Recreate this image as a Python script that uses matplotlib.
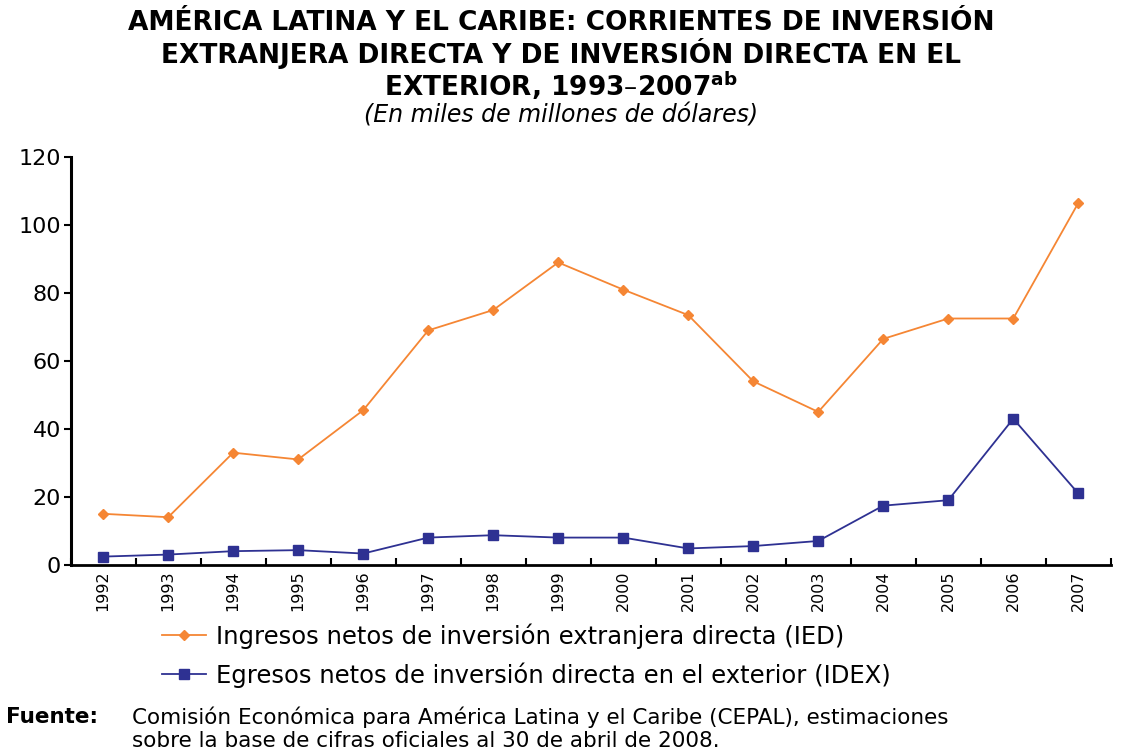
import matplotlib
matplotlib.use("Agg")
import matplotlib.pyplot as plt

# Data (miles de millones de dolares)
years = ["1992", "1993", "1994", "1995", "1996", "1997", "1998", "1999",
         "2000", "2001", "2002", "2003", "2004", "2005", "2006", "2007"]
ied = [15, 14, 33, 31, 45.5, 69, 75, 89, 81, 73.5, 54, 45, 66.5, 72.5, 72.5, 106.5]
idex = [2.4, 3, 4, 4.3, 3.3, 8, 8.7, 8, 8, 4.8, 5.5, 7, 17.4, 19, 43, 21]

orange = "#F58634"
blue = "#2E3192"

plt.rcParams['font.family'] = ['DejaVu Sans']

fig = plt.figure(figsize=(11.22, 7.52), dpi=100)
ax = fig.add_axes([0.063, 0.249, 0.927, 0.542])

x = list(range(len(years)))
ax.plot(x, ied, color=orange, lw=1.3, marker="D", ms=5,
        label="Ingresos netos de inversión extranjera directa (IED)")
ax.plot(x, idex, color=blue, lw=1.3, marker="s", ms=7,
        label="Egresos netos de inversión directa en el exterior (IDEX)")

ax.set_xlim(-0.5, len(years) - 0.5)
ax.set_ylim(0, 120)
ax.set_yticks(range(0, 121, 20))
ax.set_xticks([i - 0.5 for i in range(len(years) + 1)])
ax.set_xticklabels([])
ax.set_xticks(x, minor=True)
ax.set_xticklabels(years, minor=True, rotation=90, fontsize=11.5)
ax.tick_params(axis="x", which="minor", length=0, pad=4)
ax.tick_params(axis="x", which="major", length=5, width=1.5, direction="in")
ax.tick_params(axis="y", length=5, width=1.5, labelsize=16, pad=2)

for s in ["top", "right"]:
    ax.spines[s].set_visible(False)
ax.spines["left"].set_linewidth(2.2)
ax.spines["bottom"].set_linewidth(2)

fig.text(0.5, 0.970, "AMÉRICA LATINA Y EL CARIBE: CORRIENTES DE INVERSIÓN",
         ha="center", va="center", fontsize=19, fontweight="bold")
fig.text(0.5, 0.929, "EXTRANJERA DIRECTA Y DE INVERSIÓN DIRECTA EN EL",
         ha="center", va="center", fontsize=19, fontweight="bold")
fig.text(0.5, 0.886, r"EXTERIOR, 1993–2007$^{\mathregular{ab}}$",
         ha="center", va="center", fontsize=19, fontweight="bold")
fig.text(0.5, 0.847, "(En miles de millones de dólares)",
         ha="center", va="center", fontsize=17, style="italic")

ax.legend(loc="upper left", bbox_to_anchor=(0.125, 0.2), bbox_transform=fig.transFigure,
          frameon=False, fontsize=17.5, handlelength=1.8, handletextpad=0.4, labelspacing=0.55)

fig.text(0.005, 0.046, "Fuente:", fontsize=15.5, fontweight="bold", va="center")
fig.text(0.118, 0.046, "Comisión Económica para América Latina y el Caribe (CEPAL), estimaciones",
         fontsize=15.5, va="center")
fig.text(0.118, 0.014, "sobre la base de cifras oficiales al 30 de abril de 2008.",
         fontsize=15.5, va="center")

fig.savefig("out.png", dpi=100)
